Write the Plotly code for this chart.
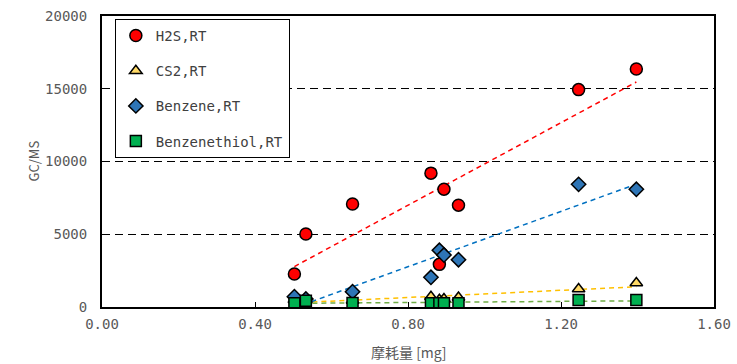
import numpy as np
import plotly.graph_objects as go

# ---- data ----
wear_mg = [0.503, 0.533, 0.655, 0.860, 0.882, 0.894, 0.932, 1.246, 1.397]
h2s = [2270, 5020, 7080, 9200, 2930, 8100, 7000, 14940, 16360]
cs2 = [500, 500, 450, 700, 500, 550, 650, 1240, 1650]
benzene = [708, 550, 1050, 2040, 3900, 3570, 3250, 8430, 8090]
benzenethiol = [250, 430, 270, 250, 250, 250, 250, 480, 480]

series_names = ["H2S,RT", "CS2,RT", "Benzene,RT", "Benzenethiol,RT"]
x_ticks = [0.0, 0.4, 0.8, 1.2, 1.6]
y_ticks = [0, 5000, 10000, 15000, 20000]
y_tick_text = ["0", "5000", "10000", "15000", "20000"]
x_title = "摩耗量 [mg]"
y_title = "GC/MS"

styles = [
    dict(symbol="circle", color="#FF0000", size=12, trend="#FF0000"),
    dict(symbol="triangle-up", color="#FFD966", size=11, trend="#FFC000"),
    dict(symbol="diamond", color="#2E75B6", size=11, trend="#0070C0"),
    dict(symbol="square", color="#00B050", size=11, trend="#70AD47"),
]
data = [h2s, cs2, benzene, benzenethiol]

fig = go.Figure()
xa = np.array(wear_mg)
xfit = np.array([xa.min(), xa.max()])
# trend lines first
for vals, st in zip(data, styles):
    k, b = np.polyfit(xa, np.array(vals, dtype=float), 1)
    fig.add_trace(go.Scatter(
        x=xfit, y=k * xfit + b, mode="lines", showlegend=False, hoverinfo="skip",
        line=dict(color=st["trend"], width=1.5, dash="5px,4px")))
for i, (name, vals, st) in enumerate(zip(series_names, data, styles)):
    fig.add_trace(go.Scatter(
        x=wear_mg, y=vals, mode="markers", name=name, legendgroup=f"g{i}",
        marker=dict(symbol=st["symbol"], color=st["color"], size=st["size"],
                    line=dict(color="black", width=1.5))))

mono = "DejaVu Sans Mono"
fig.update_layout(
    width=737, height=364,
    margin=dict(l=102, r=23, t=16, b=57),
    paper_bgcolor="white", plot_bgcolor="white",
    font=dict(family=mono, size=14, color="#595959"),
    showlegend=True,
    legend=dict(
        x=0.021, y=0.99, xanchor="left", yanchor="top",
        bgcolor="white", bordercolor="black", borderwidth=1,
        font=dict(family=mono, size=14, color="#404040"),
        tracegroupgap=14, traceorder="grouped", itemwidth=30,
    ),
    xaxis=dict(
        range=[0, 1.6], tickvals=x_ticks, tickformat=".2f",
        ticks="inside", ticklen=5, tickcolor="black", ticklabelstandoff=3,
        showline=True, linecolor="black", linewidth=2, mirror=True,
        showgrid=False, zeroline=False, automargin=False,
    ),
    yaxis=dict(
        range=[0, 20000], tickvals=y_ticks, ticktext=y_tick_text,
        ticks="inside", ticklen=5, tickcolor="black", ticklabelstandoff=10,
        showline=True, linecolor="black", linewidth=2, mirror=True,
        showgrid=True, gridcolor="black", gridwidth=1.3, griddash="8px,5px",
        zeroline=False, automargin=False,
    ),
    annotations=[
        dict(text=x_title, xref="paper", yref="paper", x=0.5, y=0, yshift=-45,
             xanchor="center", yanchor="middle", showarrow=False,
             font=dict(family="Noto Sans CJK JP", size=14, color="#595959")),
        dict(text=y_title, xref="paper", yref="paper", x=0, y=0.5, xshift=-69,
             xanchor="center", yanchor="middle", showarrow=False, textangle=-90,
             font=dict(family="Noto Sans CJK JP", size=13, color="#595959")),
    ],
)

fig.write_html("out.html", config={"displayModeBar": False},
               post_script="document.body.style.margin='0';")
